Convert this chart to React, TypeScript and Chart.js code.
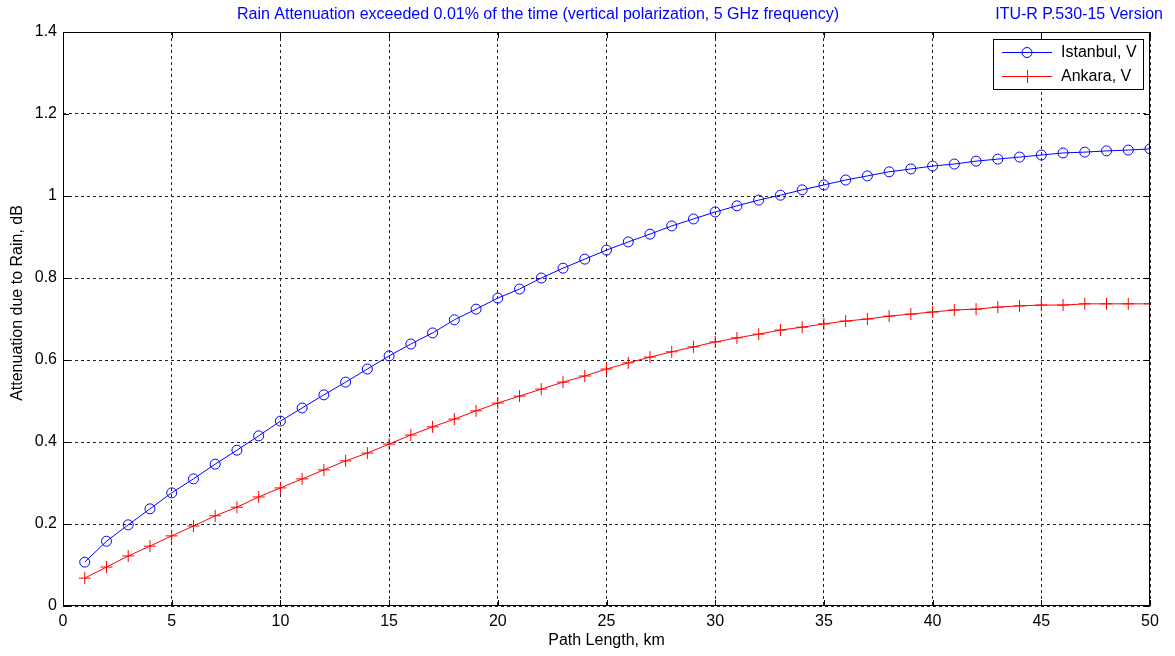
import React, { useEffect, useRef } from "react";
import { Chart, registerables } from "chart.js";

Chart.register(...registerables);

const pathLength: number[] = [
  1, 2, 3, 4, 5, 6, 7, 8, 9, 10, 11, 12, 13, 14, 15, 16, 17, 18, 19, 20, 21, 22, 23, 24, 25,
  26, 27, 28, 29, 30, 31, 32, 33, 34, 35, 36, 37, 38, 39, 40, 41, 42, 43, 44, 45, 46, 47, 48, 49, 50,
];

const istanbulV: number[] = [
  0.107, 0.158, 0.198, 0.237, 0.276, 0.31, 0.346, 0.38, 0.415, 0.451,
  0.483, 0.515, 0.546, 0.578, 0.61, 0.639, 0.666, 0.698, 0.724, 0.751,
  0.773, 0.8, 0.824, 0.846, 0.868, 0.888, 0.907, 0.927, 0.944, 0.961,
  0.976, 0.99, 1.002, 1.015, 1.027, 1.039, 1.049, 1.059, 1.066, 1.073,
  1.078, 1.085, 1.09, 1.095, 1.1, 1.105, 1.107, 1.11, 1.112, 1.115,
];

const ankaraV: number[] = [
  0.068, 0.095, 0.122, 0.146, 0.171, 0.195, 0.22, 0.241, 0.266, 0.288,
  0.31, 0.332, 0.354, 0.373, 0.395, 0.417, 0.437, 0.456, 0.476, 0.495,
  0.512, 0.529, 0.546, 0.561, 0.578, 0.593, 0.607, 0.62, 0.632, 0.644,
  0.654, 0.663, 0.673, 0.68, 0.688, 0.695, 0.7, 0.707, 0.712, 0.717,
  0.722, 0.724, 0.729, 0.732, 0.734, 0.734, 0.737, 0.737, 0.737, 0.737,
];

const seriesNames: string[] = ["Istanbul, V", "Ankara, V"];
const titleText = "Rain Attenuation exceeded 0.01% of the time (vertical polarization, 5 GHz frequency)";
const versionText = "ITU-R P.530-15 Version";
const xTitle = "Path Length, km";
const yTitle = "Attenuation due to Rain, dB";

const FONT = "'Liberation Sans', Arial, sans-serif";
const FS = 16;

const framePlugin = {
  id: "frame",
  afterDraw(chart: any) {
    const { ctx, chartArea } = chart;
    const { left, right, top, bottom } = chartArea;
    ctx.save();
    // titles
    ctx.fillStyle = "#0000ff";
    ctx.font = `${FS}px ${FONT}`;
    ctx.textBaseline = "middle";
    ctx.textAlign = "center";
    ctx.fillText(titleText, 538, 15);
    ctx.textAlign = "right";
    ctx.fillText(versionText, 1163, 15);

    // axis titles
    ctx.fillStyle = "#000";
    ctx.textAlign = "center";
    ctx.fillText(xTitle, (left + right) / 2, 641);
    ctx.save();
    ctx.translate(18, 303);
    ctx.rotate(-Math.PI / 2);
    ctx.fillText(yTitle, 0, 0);
    ctx.restore();

    // box
    ctx.strokeStyle = "#000";
    ctx.lineWidth = 1;
    ctx.setLineDash([]);
    ctx.strokeRect(left + 0.5, top + 0.5, right - left - 1, bottom - top - 1);

    // inward ticks
    const xs = chart.scales.x;
    const ys = chart.scales.y;
    const tl = 6;
    ctx.beginPath();
    xs.ticks.forEach((t: any) => {
      const px = Math.round(xs.getPixelForValue(t.value)) + 0.5;
      ctx.moveTo(px, bottom);
      ctx.lineTo(px, bottom - tl);
      ctx.moveTo(px, top);
      ctx.lineTo(px, top + tl);
    });
    ys.ticks.forEach((t: any) => {
      const py = Math.round(ys.getPixelForValue(t.value)) + 0.5;
      ctx.moveTo(left, py);
      ctx.lineTo(left + tl, py);
      ctx.moveTo(right, py);
      ctx.lineTo(right - tl, py);
    });
    ctx.stroke();

    // legend
    const lx = 993, ly = 39, lw = 150, lh = 50;
    ctx.fillStyle = "#fff";
    ctx.fillRect(lx, ly, lw, lh);
    ctx.strokeStyle = "#000";
    ctx.strokeRect(lx + 0.5, ly + 0.5, lw, lh);
    const rows = [
      { name: seriesNames[0], color: "#0000ff", y: 52, marker: "circle" },
      { name: seriesNames[1], color: "#ff0000", y: 76, marker: "cross" },
    ];
    rows.forEach((r) => {
      ctx.strokeStyle = r.color;
      ctx.lineWidth = 1;
      ctx.beginPath();
      ctx.moveTo(1002, r.y + 0.5);
      ctx.lineTo(1052, r.y + 0.5);
      ctx.stroke();
      ctx.beginPath();
      if (r.marker === "circle") {
        ctx.arc(1027, r.y + 0.5, 5, 0, Math.PI * 2);
      } else {
        ctx.moveTo(1027.5, r.y - 6);
        ctx.lineTo(1027.5, r.y + 7);
        ctx.moveTo(1021, r.y + 0.5);
        ctx.lineTo(1034, r.y + 0.5);
      }
      ctx.stroke();
      ctx.fillStyle = "#000";
      ctx.font = `${FS}px ${FONT}`;
      ctx.textAlign = "left";
      ctx.textBaseline = "middle";
      ctx.fillText(r.name, 1061, r.y + 1);
    });
    ctx.restore();
  },
};

export default function App() {
  const canvasRef = useRef<HTMLCanvasElement | null>(null);

  useEffect(() => {
    if (!canvasRef.current) return;
    const chart = new Chart(canvasRef.current, {
      type: "line",
      data: {
        datasets: [
          {
            label: seriesNames[0],
            data: pathLength.map((x, i) => ({ x, y: istanbulV[i] })),
            borderColor: "#0000ff",
            backgroundColor: "rgba(0,0,0,0)",
            borderWidth: 1,
            pointStyle: "circle",
            pointRadius: 5,
            pointBorderWidth: 1,
            pointBorderColor: "#0000ff",
            pointBackgroundColor: "rgba(0,0,0,0)",
            tension: 0,
          },
          {
            label: seriesNames[1],
            data: pathLength.map((x, i) => ({ x, y: ankaraV[i] })),
            borderColor: "#ff0000",
            backgroundColor: "rgba(0,0,0,0)",
            borderWidth: 1,
            pointStyle: "cross",
            pointRadius: 6,
            pointBorderWidth: 1,
            pointBorderColor: "#ff0000",
            tension: 0,
          },
        ],
      },
      options: {
        responsive: false,
        animation: false,
        layout: { padding: { top: 32, right: 25, left: 0, bottom: 0 } },
        plugins: {
          legend: { display: false },
          title: { display: false },
          tooltip: { enabled: false },
        },
        scales: {
          x: {
            type: "linear",
            min: 0,
            max: 50,
            afterFit(scale: any) {
              scale.height = 50;
            },
            ticks: {
              stepSize: 5,
              color: "#000",
              font: { family: FONT, size: FS },
              padding: 6,
              maxRotation: 0,
              callback: (v: any) => String(Number(v)),
            },
            grid: {
              color: "#222",
              lineWidth: 1,
              drawTicks: false,
            },
            border: { display: false, dash: [3, 3] },
            title: { display: false },
          },
          y: {
            type: "linear",
            min: 0,
            max: 1.4,
            afterFit(scale: any) {
              scale.width = 63;
            },
            ticks: {
              stepSize: 0.2,
              color: "#000",
              font: { family: FONT, size: FS },
              padding: 6,
              callback: (v: any) => String(Math.round(Number(v) * 10) / 10),
            },
            grid: {
              color: "#222",
              lineWidth: 1,
              drawTicks: false,
            },
            border: { display: false, dash: [3, 3] },
            title: { display: false },
          },
        },
      },
      plugins: [framePlugin],
    } as any);
    return () => chart.destroy();
  }, []);

  return (
    <div style={{ position: "absolute", left: 0, top: 0, width: 1175, height: 656, background: "#fff" }}>
      <canvas ref={canvasRef} width={1175} height={656} style={{ width: 1175, height: 656 }} />
    </div>
  );
}
